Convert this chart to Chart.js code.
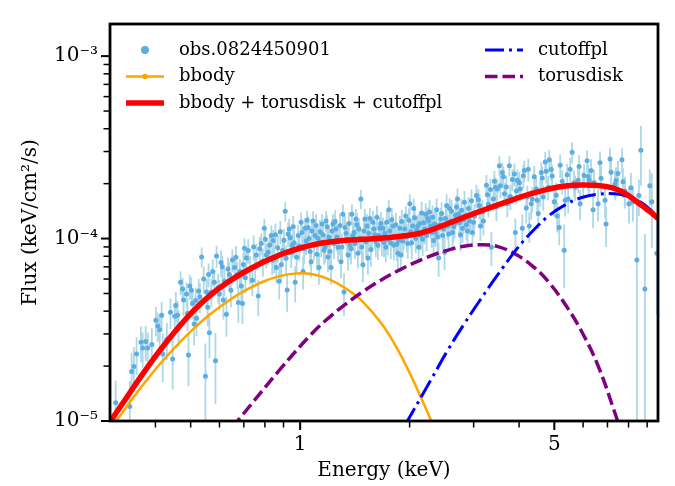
<!DOCTYPE html>
<html>
<head>
<meta charset="utf-8">
<script src="https://cdn.jsdelivr.net/npm/chart.js@4.4.1/dist/chart.umd.min.js"></script>
<style>html,body{margin:0;padding:0;background:#fff;}canvas{display:block;}</style>
</head>
<body>
<canvas id="c" width="675" height="486"></canvas>
<script>
const FONT = "'DejaVu Serif', 'Liberation Serif', serif";

const obsEnergy = [
0.311,0.340,0.344,0.349,0.355,0.365,0.369,0.376,0.381,0.391,
0.401,0.406,0.411,0.416,0.419,0.430,0.440,0.446,0.452,0.460,
0.469,0.475,0.487,0.493,0.497,0.506,0.516,0.519,0.526,0.536,
0.549,0.553,0.560,0.563,0.570,0.581,0.585,0.589,0.600,0.611,
0.619,0.627,0.639,0.651,0.660,0.672,0.676,0.689,0.694,0.703,
0.712,0.739,0.758,0.767,0.782,0.797,0.807,0.817,0.833,0.843,
0.849,0.860,0.876,0.887,0.910,0.921,0.933,0.939,0.951,0.969,
0.988,1.006,1.019,1.032,1.045,1.058,1.072,1.085,1.099,1.120,
1.127,1.149,1.163,1.178,1.193,1.216,1.231,1.255,1.271,1.295,
1.311,1.320,1.337,1.354,1.371,1.388,1.406,1.424,1.442,1.451,
1.469,1.488,1.507,1.536,1.555,1.575,1.595,1.636,1.657,1.688,
1.700,1.720,1.753,1.798,1.810,1.856,1.867,1.891,1.927,1.952,
1.977,2.002,2.040,2.053,2.079,2.105,2.118,2.145,2.186,2.214,
2.242,2.285,2.328,2.358,2.403,2.434,2.465,2.496,2.544,2.576,
2.625,2.659,2.709,2.726,2.796,2.849,2.885,2.922,2.978,3.016,
3.093,3.132,3.192,3.253,3.294,3.357,3.400,3.443,3.487,3.531,
3.599,3.644,3.714,3.761,3.834,3.907,3.957,4.032,4.083,4.135,
4.214,4.267,4.349,4.460,4.517,4.603,4.662,4.721,4.811,4.903,
4.997,5.092,5.157,5.255,5.322,5.424,5.458,5.597,5.704,5.813,
5.888,6.038,6.152,6.231,6.310,6.391,6.596,6.721,6.937,7.114,
7.343,7.482,7.673,7.819,8.018,8.224,8.433,8.650,8.872,9.270,
9.568,
0.455,0.463,0.478,0.490,0.502,0.511,0.530,0.543,0.557,0.575,
0.595,0.606,0.615,0.633,0.645,0.666,0.683,0.698,0.707,0.720,
0.728,0.745,0.752,0.774,0.790,0.802,0.825,0.838,0.855,0.868,
0.882,0.895,0.903,0.915,0.927,0.945,0.957,0.963,0.978,0.995,
1.012,1.025,1.038,1.052,1.065,1.078,1.092,1.106,1.113,1.134,
1.142,1.156,1.171,1.186,1.200,1.208,1.223,1.240,1.248,1.263,
1.280,1.287,1.303,1.328,1.346,1.362,1.380,1.397,1.415,1.433,
1.460,1.478,1.497,1.518,1.527,1.545,1.565,1.585,1.605,1.615,
1.626,1.646,1.667,1.677,1.710,1.731,1.742,1.764,1.776,1.787,
1.821,1.833,1.845,1.879,1.903,1.915,1.940,1.965,1.990,
2.015,2.027,2.066,2.092,2.131,2.159,2.172,2.200,2.228,2.256,
2.270,2.299,2.313,2.343,2.373,2.388,2.418,2.449,2.480,2.512,
2.528,2.560,2.592,2.608,2.642,2.676,2.692,2.743,2.760,2.778,
2.814,2.831,2.867,2.903,2.940,2.959,2.997,
3.054,3.112,3.172,3.274,3.336,3.421,3.465,3.554,3.621,3.690,
3.785,3.882,3.932,4.007,4.109,4.187,4.240,4.321,4.404,4.488,
4.574,4.632,4.751,4.842,4.934,
5.061,5.190,5.356,5.527,5.668,5.850,6.000,6.191,6.430,6.678,
6.893,7.160,7.390,7.722,8.120,8.540,9.150];
const obsFlux = [
1.26e-5,1.20e-5,1.87e-5,1.99e-5,2.33e-5,2.70e-5,2.51e-5,2.73e-5,2.51e-5,2.63e-5,
3.57e-5,3.32e-5,3.16e-5,3.80e-5,2.33e-5,2.80e-5,3.94e-5,2.19e-5,3.75e-5,3.80e-5,
5.76e-5,5.29e-5,4.97e-5,2.30e-5,5.49e-5,4.40e-5,4.57e-5,3.66e-5,5.16e-5,7.93e-5,
1.76e-5,5.10e-5,6.36e-5,3.05e-5,5.10e-5,5.76e-5,2.14e-5,8.02e-5,4.97e-5,7.01e-5,
5.83e-5,3.85e-5,6.36e-5,7.64e-5,6.93e-5,6.36e-5,4.46e-5,5.49e-5,4.40e-5,8.85e-5,
7.83e-5,5.91e-5,8.12e-5,4.85e-5,9.41e-5,1.14e-4,8.12e-5,8.42e-5,1.04e-4,9.76e-5,
7.73e-5,6.93e-5,5.83e-5,7.19e-5,1.41e-4,5.22e-5,1.13e-4,1.01e-4,9.18e-5,5.76e-5,
1.04e-4,1.23e-4,6.60e-5,1.14e-4,1.26e-4,1.00e-4,7.46e-5,1.25e-4,1.04e-4,1.00e-4,
6.93e-5,1.20e-4,8.64e-5,1.25e-4,7.93e-5,6.93e-5,1.20e-4,1.13e-4,8.96e-5,7.46e-5,
1.36e-4,5.10e-5,1.07e-4,8.12e-5,9.18e-5,1.36e-4,1.08e-4,1.28e-4,8.32e-5,1.13e-4,
1.65e-4,7.19e-5,1.28e-4,7.83e-5,1.29e-4,1.00e-4,1.13e-4,9.18e-5,1.14e-4,1.14e-4,
9.52e-5,8.96e-5,1.44e-4,1.17e-4,9.18e-5,8.32e-5,9.76e-5,8.12e-5,1.04e-4,1.33e-4,
9.41e-5,1.55e-4,1.17e-4,1.46e-4,1.00e-4,1.17e-4,8.96e-5,1.04e-4,1.22e-4,1.36e-4,
1.29e-4,1.17e-4,9.76e-5,1.08e-4,7.83e-5,1.28e-4,1.04e-4,8.42e-5,1.17e-4,1.46e-4,
1.08e-4,1.20e-4,1.65e-4,1.36e-4,1.14e-4,1.33e-4,1.10e-4,1.25e-4,1.08e-4,1.33e-4,
1.63e-4,1.17e-4,1.25e-4,1.96e-4,1.54e-4,8.96e-5,1.65e-4,1.91e-4,1.87e-4,2.51e-4,
2.30e-4,1.76e-4,1.55e-4,2.51e-4,2.11e-4,1.08e-4,2.09e-4,1.87e-4,1.14e-4,2.36e-4,
1.69e-4,1.17e-4,1.65e-4,1.87e-4,1.37e-4,2.30e-4,1.69e-4,2.63e-4,1.91e-4,2.39e-4,
1.59e-4,1.33e-4,1.15e-4,2.06e-4,8.64e-5,2.24e-4,1.65e-4,2.97e-4,1.91e-4,2.09e-4,
1.55e-4,2.22e-4,2.67e-4,2.09e-4,2.36e-4,1.44e-4,1.55e-4,2.14e-4,1.20e-4,2.73e-4,
1.99e-4,2.27e-4,2.70e-4,1.82e-4,1.55e-4,1.59e-4,7.64e-5,3.05e-4,5.29e-5,1.59e-4,
8.32e-5,
4.3e-5,3.3e-5,4.6e-5,3.9e-5,5.2e-5,3.4e-5,4.8e-5,6.0e-5,4.2e-5,6.6e-5,
5.4e-5,7.4e-5,4.6e-5,6.8e-5,5.2e-5,7.9e-5,6.6e-5,7.2e-5,6.1e-5,8.6e-5,
6.8e-5,9.0e-5,7.0e-5,8.8e-5,7.5e-5,9.9e-5,9.2e-5,7.6e-5,1.05e-4,8.9e-5,
1.09e-4,8.6e-5,9.8e-5,7.8e-5,1.06e-4,8.4e-5,1.16e-4,9.5e-5,7.9e-5,9.1e-5,
1.08e-4,8.8e-5,9.7e-5,1.15e-4,8.5e-5,1.10e-4,9.2e-5,1.18e-4,8.2e-5,1.09e-4,
9.5e-5,1.05e-4,9.0e-5,1.16e-4,1.02e-4,8.5e-5,1.10e-4,9.4e-5,1.24e-4,1.02e-4,
9.8e-5,1.18e-4,9.0e-5,1.15e-4,9.9e-5,1.21e-4,8.8e-5,1.04e-4,9.4e-5,1.19e-4,
1.00e-4,9.0e-5,1.10e-4,9.6e-5,1.17e-4,1.07e-4,8.7e-5,1.23e-4,1.05e-4,9.6e-5,
1.31e-4,1.04e-4,1.21e-4,9.8e-5,1.07e-4,1.23e-4,9.9e-5,1.10e-4,9.5e-5,1.27e-4,
1.03e-4,1.19e-4,9.3e-5,1.14e-4,1.24e-4,9.7e-5,1.13e-4,1.02e-4,1.26e-4,
1.09e-4,9.5e-5,1.30e-4,1.11e-4,1.21e-4,1.38e-4,9.9e-5,1.13e-4,1.04e-4,1.25e-4,
1.40e-4,1.08e-4,1.31e-4,1.20e-4,1.44e-4,1.02e-4,1.19e-4,1.37e-4,1.13e-4,1.29e-4,
1.52e-4,1.06e-4,1.24e-4,1.41e-4,1.16e-4,1.34e-4,1.49e-4,1.22e-4,1.05e-4,1.43e-4,
1.27e-4,1.58e-4,1.19e-4,1.46e-4,1.33e-4,1.61e-4,1.23e-4,
1.72e-4,1.52e-4,1.40e-4,1.74e-4,1.86e-4,2.06e-4,1.49e-4,1.95e-4,2.18e-4,1.92e-4,
1.70e-4,2.26e-4,1.82e-4,2.02e-4,2.21e-4,1.47e-4,2.40e-4,1.55e-4,2.18e-4,1.62e-4,
1.80e-4,2.15e-4,2.34e-4,2.70e-4,2.20e-4,
1.73e-4,2.52e-4,1.62e-4,2.40e-4,2.02e-4,2.48e-4,1.98e-4,2.19e-4,2.03e-4,2.60e-4,
1.62e-4,2.31e-4,2.08e-4,2.05e-4,1.90e-4,1.72e-4,1.95e-4];
const obsFluxErr = [
0.40e-5,0.45e-5,0.50e-5,0.55e-5,0.55e-5,0.60e-5,0.55e-5,0.60e-5,0.55e-5,0.60e-5,
0.65e-5,0.60e-5,0.65e-5,0.70e-5,0.70e-5,0.65e-5,0.75e-5,0.70e-5,0.70e-5,0.75e-5,
0.85e-5,0.80e-5,0.80e-5,0.75e-5,0.85e-5,0.80e-5,0.80e-5,0.75e-5,0.85e-5,1.00e-5,
0.90e-5,0.90e-5,0.95e-5,0.85e-5,0.90e-5,0.95e-5,0.90e-5,1.10e-5,0.95e-5,1.05e-5,
1.00e-5,0.95e-5,1.05e-5,1.10e-5,1.10e-5,1.05e-5,1.00e-5,1.05e-5,1.00e-5,1.20e-5,
1.15e-5,1.10e-5,1.25e-5,1.10e-5,1.30e-5,1.45e-5,1.25e-5,1.30e-5,1.40e-5,1.35e-5,
1.25e-5,1.25e-5,1.20e-5,1.30e-5,1.70e-5,1.25e-5,1.55e-5,1.45e-5,1.40e-5,1.30e-5,
1.50e-5,1.60e-5,1.35e-5,1.55e-5,1.60e-5,1.45e-5,1.35e-5,1.60e-5,1.50e-5,1.45e-5,
1.35e-5,1.60e-5,1.45e-5,1.65e-5,1.40e-5,1.35e-5,1.60e-5,1.55e-5,1.45e-5,1.40e-5,
1.75e-5,1.35e-5,1.55e-5,1.45e-5,1.50e-5,1.75e-5,1.55e-5,1.70e-5,1.45e-5,1.60e-5,
2.00e-5,1.45e-5,1.70e-5,1.50e-5,1.75e-5,1.60e-5,1.65e-5,1.55e-5,1.65e-5,1.65e-5,
1.60e-5,1.55e-5,1.90e-5,1.70e-5,1.60e-5,1.55e-5,1.65e-5,1.55e-5,1.70e-5,1.85e-5,
1.65e-5,2.00e-5,1.75e-5,1.95e-5,1.70e-5,1.80e-5,1.65e-5,1.75e-5,1.85e-5,1.95e-5,
1.90e-5,1.80e-5,1.70e-5,1.80e-5,1.65e-5,1.90e-5,1.75e-5,1.70e-5,1.85e-5,2.05e-5,
1.85e-5,1.95e-5,2.30e-5,2.05e-5,1.90e-5,2.05e-5,1.90e-5,2.00e-5,1.85e-5,2.10e-5,
2.40e-5,2.00e-5,2.10e-5,2.70e-5,2.30e-5,1.90e-5,2.45e-5,2.65e-5,2.60e-5,3.20e-5,
3.00e-5,2.55e-5,2.40e-5,3.20e-5,2.90e-5,2.10e-5,2.90e-5,2.75e-5,2.20e-5,3.10e-5,
2.60e-5,2.20e-5,2.60e-5,2.80e-5,2.40e-5,3.20e-5,2.70e-5,3.50e-5,2.90e-5,3.30e-5,
2.70e-5,2.50e-5,2.30e-5,3.10e-5,3.30e-5,3.30e-5,2.80e-5,4.00e-5,3.00e-5,3.20e-5,
2.90e-5,3.40e-5,3.80e-5,3.30e-5,3.60e-5,3.00e-5,3.10e-5,3.60e-5,3.00e-5,4.20e-5,
3.60e-5,3.90e-5,4.30e-5,3.60e-5,3.40e-5,3.50e-5,7.64e-5,1.10e-4,5.29e-5,7.00e-5,
4.50e-5,
0.8e-5,0.75e-5,0.85e-5,0.8e-5,0.9e-5,0.8e-5,0.9e-5,1.0e-5,0.9e-5,1.1e-5,
1.0e-5,1.2e-5,1.0e-5,1.1e-5,1.0e-5,1.2e-5,1.1e-5,1.2e-5,1.1e-5,1.3e-5,
1.2e-5,1.4e-5,1.3e-5,1.4e-5,1.3e-5,1.5e-5,1.4e-5,1.3e-5,1.6e-5,1.5e-5,
1.6e-5,1.5e-5,1.5e-5,1.4e-5,1.6e-5,1.5e-5,1.7e-5,1.6e-5,1.5e-5,1.6e-5,
1.7e-5,1.6e-5,1.6e-5,1.8e-5,1.5e-5,1.8e-5,1.6e-5,1.8e-5,1.5e-5,1.8e-5,
1.6e-5,1.7e-5,1.6e-5,1.8e-5,1.7e-5,1.6e-5,1.8e-5,1.7e-5,1.9e-5,1.7e-5,
1.7e-5,1.9e-5,1.6e-5,1.8e-5,1.7e-5,1.9e-5,1.6e-5,1.8e-5,1.7e-5,1.9e-5,
1.7e-5,1.7e-5,1.8e-5,1.7e-5,1.9e-5,1.8e-5,1.7e-5,1.9e-5,1.8e-5,1.7e-5,
2.0e-5,1.8e-5,1.9e-5,1.8e-5,1.8e-5,2.0e-5,1.8e-5,1.9e-5,1.8e-5,2.0e-5,
1.8e-5,1.9e-5,1.8e-5,1.9e-5,2.0e-5,1.8e-5,1.9e-5,1.8e-5,2.0e-5,
1.9e-5,1.8e-5,2.1e-5,1.9e-5,2.0e-5,2.1e-5,1.9e-5,2.0e-5,1.9e-5,2.0e-5,
2.2e-5,1.9e-5,2.1e-5,2.0e-5,2.2e-5,1.9e-5,2.0e-5,2.1e-5,2.0e-5,2.1e-5,
2.3e-5,2.0e-5,2.1e-5,2.2e-5,2.0e-5,2.2e-5,2.3e-5,2.1e-5,2.0e-5,2.2e-5,
2.1e-5,2.4e-5,2.1e-5,2.3e-5,2.2e-5,2.4e-5,2.1e-5,
2.5e-5,2.4e-5,2.3e-5,2.6e-5,2.7e-5,2.9e-5,2.4e-5,2.8e-5,3.0e-5,2.8e-5,
2.7e-5,3.2e-5,2.8e-5,3.0e-5,3.2e-5,2.6e-5,3.4e-5,2.8e-5,3.2e-5,2.8e-5,
3.0e-5,3.3e-5,3.4e-5,3.7e-5,3.4e-5,
3.0e-5,3.7e-5,3.0e-5,3.6e-5,3.4e-5,3.8e-5,3.4e-5,3.6e-5,3.6e-5,4.0e-5,
3.3e-5,3.9e-5,3.8e-5,3.8e-5,3.9e-5,3.9e-5,4.4e-5];

// ---- model components ----
const bbodyEnergy = [0.300,0.333,0.370,0.411,0.457,0.507,0.563,0.626,0.695,0.790,0.878,0.975,1.083,1.203,1.337,1.485,1.685,1.852,2.057,2.285,2.358];
const bbodyFlux   = [8.96e-6,1.195e-5,1.583e-5,2.047e-5,2.584e-5,3.181e-5,3.823e-5,4.467e-5,5.098e-5,5.799e-5,6.224e-5,6.434e-5,6.371e-5,5.978e-5,5.321e-5,4.511e-5,3.361e-5,2.475e-5,1.632e-5,1.018e-5,8.74e-6];

const torusEnergy = [0.650,0.675,0.878,1.083,1.216,1.337,1.500,1.667,1.852,2.057,2.285,2.539,2.819,3.132,3.480,3.949,4.432,4.820,5.355,5.950,6.607,7.343,7.590];
const torusFlux   = [9.16e-6,1.007e-5,1.905e-5,3.048e-5,3.772e-5,4.385e-5,5.174e-5,5.911e-5,6.641e-5,7.354e-5,8.030e-5,8.622e-5,9.067e-5,9.258e-5,9.067e-5,8.120e-5,6.866e-5,5.784e-5,4.364e-5,3.085e-5,1.993e-5,1.102e-5,8.96e-6];

const cutoffEnergy = [1.950,1.973,2.285,2.539,2.819,3.132,3.480,3.949,4.341,4.820,5.355,5.950,6.607,7.343,7.980,8.690,9.254,9.650,9.870];
const cutoffFlux   = [0.95e-5,1.00e-5,1.67e-5,2.42e-5,3.38e-5,4.63e-5,6.26e-5,8.80e-5,1.09e-4,1.33e-4,1.53e-4,1.68e-4,1.75e-4,1.76e-4,1.70e-4,1.57e-4,1.42e-4,1.30e-4,1.22e-4];

const totalEnergy = [0.300,0.333,0.370,0.411,0.457,0.507,0.563,0.626,0.695,0.790,0.878,0.975,1.083,1.203,1.337,1.485,1.685,2.057,2.285,2.539,2.819,3.132,3.480,3.907,4.341,4.820,5.355,5.950,6.607,7.190,7.660,8.155,8.690,9.254,9.650,9.870];
const totalFlux   = [9.90e-6,1.342e-5,1.823e-5,2.430e-5,3.162e-5,3.990e-5,4.854e-5,5.692e-5,6.475e-5,7.408e-5,8.120e-5,8.738e-5,9.235e-5,9.580e-5,9.781e-5,9.902e-5,1.006e-4,1.053e-4,1.114e-4,1.205e-4,1.306e-4,1.413e-4,1.526e-4,1.652e-4,1.767e-4,1.867e-4,1.942e-4,1.966e-4,1.954e-4,1.902e-4,1.811e-4,1.673e-4,1.520e-4,1.383e-4,1.285e-4,1.231e-4];

// ---- axes ----
const xRange = [0.3034, 9.64];
const yRange = [1e-5, 1.5e-3];
const xTickValues = [0.4,0.5,0.6,0.7,0.8,0.9,1,2,3,4,5,6,7,8,9];
const xTickLabels = ['','','','','','','1','','','','5','','','',''];
const yTickValues = [1e-5,2e-5,3e-5,4e-5,5e-5,6e-5,7e-5,8e-5,9e-5,1e-4,2e-4,3e-4,4e-4,5e-4,6e-4,7e-4,8e-4,9e-4,1e-3];
const yTickLabels = ['10\u207B\u2075','','','','','','','','','10\u207B\u2074','','','','','','','','','10\u207B\u00B3'];

const pts = (xs, ys) => xs.map((v, i) => ({x: v, y: ys[i]}));

const errorBarPlugin = {
  id: 'errorBars',
  beforeDatasetsDraw(chart) {
    const {ctx, chartArea: a, scales: {x, y}} = chart;
    ctx.save();
    ctx.beginPath();
    ctx.rect(a.left, a.top, a.right - a.left, a.bottom - a.top);
    ctx.clip();
    ctx.strokeStyle = '#add8e6';
    ctx.lineWidth = 1.8;
    ctx.beginPath();
    for (let i = 0; i < obsEnergy.length; i++) {
      const px = x.getPixelForValue(obsEnergy[i]);
      const hi = obsFlux[i] + obsFluxErr[i];
      const lo = obsFlux[i] - obsFluxErr[i];
      const yTop = y.getPixelForValue(hi);
      const yBot = lo > 0 ? y.getPixelForValue(lo) : a.bottom + 5;
      ctx.moveTo(px, yTop);
      ctx.lineTo(px, yBot);
    }
    ctx.stroke();
    ctx.restore();
  }
};

const framePlugin = {
  id: 'frame',
  afterDatasetsDraw(chart) {
    const {ctx, chartArea: a, scales: {x, y}} = chart;
    ctx.save();
    ctx.strokeStyle = '#000';
    xTickValues.forEach((v, i) => {
      const px = x.getPixelForValue(v);
      const major = xTickLabels[i] !== '';
      ctx.lineWidth = major ? 2 : 1.5;
      ctx.beginPath();
      ctx.moveTo(px, a.bottom);
      ctx.lineTo(px, a.bottom + (major ? 9 : 6.5));
      ctx.stroke();
    });
    yTickValues.forEach((v, i) => {
      const py = y.getPixelForValue(v);
      const major = yTickLabels[i] !== '';
      ctx.lineWidth = major ? 2 : 1.5;
      ctx.beginPath();
      ctx.moveTo(a.left, py);
      ctx.lineTo(a.left - (major ? 9 : 6.5), py);
      ctx.stroke();
    });
    ctx.lineWidth = 2.8;
    ctx.strokeRect(a.left, a.top, a.right - a.left, a.bottom - a.top);
    ctx.restore();
  }
};

const legendPlugin = {
  id: 'mplLegend',
  afterDraw(chart) {
    const {ctx, chartArea: a} = chart;
    const ds = chart.data.datasets;
    const byLabel = l => ds.find(d => d.label === l);
    const rows = [a.top + 26, a.top + 52.5, a.top + 79];
    const cols = [a.left + 16, a.left + 375];
    const hl = 38, gap = 15;
    const entries = [
      {d: byLabel('obs.0824450901'), c: 0, r: 0, kind: 'marker'},
      {d: byLabel('bbody'), c: 0, r: 1, kind: 'linemarker'},
      {d: byLabel('bbody + torusdisk + cutoffpl'), c: 0, r: 2, kind: 'line'},
      {d: byLabel('cutoffpl'), c: 1, r: 0, kind: 'line'},
      {d: byLabel('torusdisk'), c: 1, r: 1, kind: 'line'}
    ];
    ctx.save();
    entries.forEach(e => {
      const x0 = cols[e.c], yy = rows[e.r];
      if (e.kind === 'marker') {
        ctx.fillStyle = e.d.backgroundColor;
        ctx.beginPath();
        ctx.arc(x0 + hl / 2, yy, 4, 0, Math.PI * 2);
        ctx.fill();
      } else {
        ctx.strokeStyle = e.d.borderColor;
        ctx.lineWidth = e.d.borderWidth;
        ctx.setLineDash(e.d.borderDash || []);
        ctx.lineCap = 'butt';
        ctx.beginPath();
        ctx.moveTo(x0, yy);
        ctx.lineTo(x0 + hl, yy);
        ctx.stroke();
        ctx.setLineDash([]);
        if (e.kind === 'linemarker') {
          ctx.fillStyle = e.d.borderColor;
          ctx.beginPath();
          ctx.arc(x0 + hl / 2, yy, 2.8, 0, Math.PI * 2);
          ctx.fill();
        }
      }
      ctx.fillStyle = '#000';
      ctx.font = '18px ' + FONT;
      ctx.textBaseline = 'middle';
      ctx.textAlign = 'left';
      ctx.fillText(e.d.label, x0 + hl + gap, yy);
    });
    ctx.restore();
  }
};

const lineBase = {showLine: true, pointRadius: 0, tension: 0.4, clip: 0, fill: false};

new Chart(document.getElementById('c'), {
  type: 'scatter',
  data: {
    datasets: [
      Object.assign({label: 'bbody + torusdisk + cutoffpl', data: pts(totalEnergy, totalFlux),
        borderColor: '#ff0000', borderWidth: 5.5, order: 0}, lineBase),
      Object.assign({label: 'cutoffpl', data: pts(cutoffEnergy, cutoffFlux),
        borderColor: '#0000ff', borderWidth: 3, borderDash: [19, 5, 3, 5], order: 1}, lineBase),
      Object.assign({label: 'torusdisk', data: pts(torusEnergy, torusFlux),
        borderColor: '#800080', borderWidth: 3.5, borderDash: [12.5, 5], order: 2}, lineBase),
      Object.assign({label: 'bbody', data: pts(bbodyEnergy, bbodyFlux),
        borderColor: '#ffa500', borderWidth: 2.5, order: 3}, lineBase),
      {label: 'obs.0824450901', data: pts(obsEnergy, obsFlux), showLine: false,
        pointRadius: 2.5, pointBorderWidth: 0, backgroundColor: '#5dade2',
        pointBackgroundColor: '#5dade2', borderColor: '#5dade2', clip: 0, order: 4}
    ]
  },
  options: {
    responsive: false,
    animation: false,
    devicePixelRatio: 1,
    layout: {padding: {left: 0, top: 12, right: 17, bottom: 0}},
    plugins: {legend: {display: false}, tooltip: {enabled: false}},
    scales: {
      x: {
        type: 'logarithmic', min: xRange[0], max: xRange[1],
        afterBuildTicks: s => { s.ticks = xTickValues.map(v => ({value: v})); },
        afterFit: s => { s.height = 65; },
        grid: {display: false, drawTicks: false},
        border: {display: false},
        ticks: {autoSkip: false, maxRotation: 0, minRotation: 0, padding: 12, color: '#000',
          font: {family: FONT, size: 20}, callback: (v, i) => xTickLabels[i]},
        title: {display: true, text: 'Energy (keV)', color: '#000', font: {family: FONT, size: 20},
          padding: {top: 0, bottom: 3}}
      },
      y: {
        type: 'logarithmic', min: yRange[0], max: yRange[1],
        afterBuildTicks: s => { s.ticks = yTickValues.map(v => ({value: v})); },
        afterFit: s => { s.width = 110; },
        grid: {display: false, drawTicks: false},
        border: {display: false},
        ticks: {autoSkip: false, padding: 12, color: '#000',
          font: {family: FONT, size: 20}, callback: (v, i) => yTickLabels[i]},
        title: {display: true, text: 'Flux (keV/cm\u00B2/s)', color: '#000', font: {family: FONT, size: 20},
          padding: {top: 19, bottom: 0}}
      }
    }
  },
  plugins: [errorBarPlugin, framePlugin, legendPlugin]
});
</script>
</body>
</html>
